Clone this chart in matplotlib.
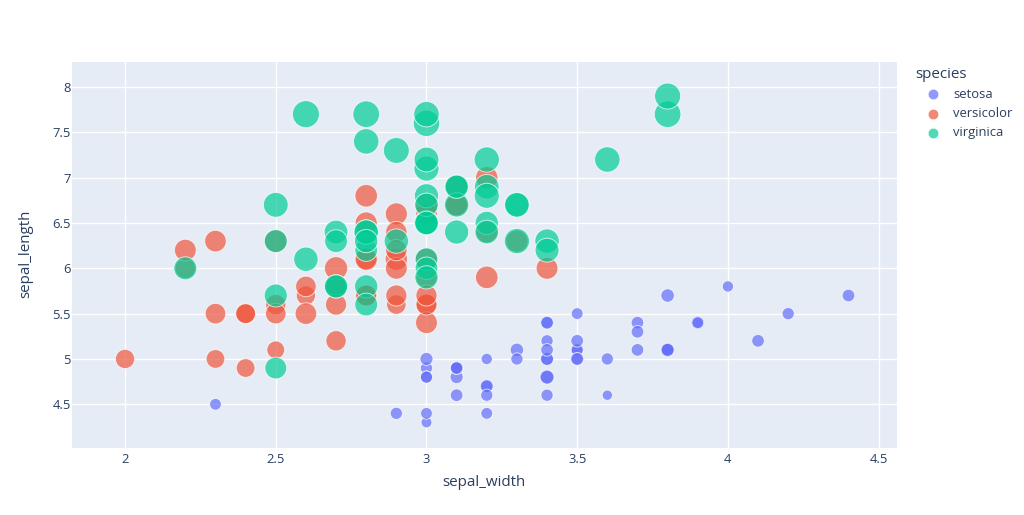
import matplotlib.pyplot as plt
from matplotlib.lines import Line2D
from matplotlib.ticker import FuncFormatter, MultipleLocator

# === DATA (iris, as shown) ===
species = ["setosa", "versicolor", "virginica"]
colors = ["#636efa", "#EF553B", "#00cc96"]

setosa_sepal_length = [5.1, 4.9, 4.7, 4.6, 5.0, 5.4, 4.6, 5.0, 4.4, 4.9, 5.4, 4.8, 4.8, 4.3, 5.8, 5.7, 5.4,
                       5.1, 5.7, 5.1, 5.4, 5.1, 4.6, 5.1, 4.8, 5.0, 5.0, 5.2, 5.2, 4.7, 4.8, 5.4, 5.2, 5.5,
                       4.9, 5.0, 5.5, 4.9, 4.4, 5.1, 5.0, 4.5, 4.4, 5.0, 5.1, 4.8, 5.1, 4.6, 5.3, 5.0]
setosa_sepal_width = [3.5, 3.0, 3.2, 3.1, 3.6, 3.9, 3.4, 3.4, 2.9, 3.1, 3.7, 3.4, 3.0, 3.0, 4.0, 4.4, 3.9,
                      3.5, 3.8, 3.8, 3.4, 3.7, 3.6, 3.3, 3.4, 3.0, 3.4, 3.5, 3.4, 3.2, 3.1, 3.4, 4.1, 4.2,
                      3.1, 3.2, 3.5, 3.1, 3.0, 3.4, 3.5, 2.3, 3.2, 3.5, 3.8, 3.0, 3.8, 3.2, 3.7, 3.3]
setosa_petal_length = [1.4, 1.4, 1.3, 1.5, 1.4, 1.7, 1.4, 1.5, 1.4, 1.5, 1.5, 1.6, 1.4, 1.1, 1.2, 1.5, 1.3,
                       1.4, 1.7, 1.5, 1.7, 1.5, 1.0, 1.7, 1.9, 1.6, 1.6, 1.5, 1.4, 1.6, 1.6, 1.5, 1.5, 1.4,
                       1.5, 1.2, 1.3, 1.5, 1.3, 1.5, 1.3, 1.3, 1.3, 1.6, 1.9, 1.4, 1.6, 1.4, 1.5, 1.4]

versicolor_sepal_length = [7.0, 6.4, 6.9, 5.5, 6.5, 5.7, 6.3, 4.9, 6.6, 5.2, 5.0, 5.9, 6.0, 6.1, 5.6, 6.7,
                           5.6, 5.8, 6.2, 5.6, 5.9, 6.1, 6.3, 6.1, 6.4, 6.6, 6.8, 6.7, 6.0, 5.7, 5.5, 5.5,
                           5.8, 6.0, 5.4, 6.0, 6.7, 6.3, 5.6, 5.5, 5.5, 6.1, 5.8, 5.0, 5.6, 5.7, 5.7, 6.2,
                           5.1, 5.7]
versicolor_sepal_width = [3.2, 3.2, 3.1, 2.3, 2.8, 2.8, 3.3, 2.4, 2.9, 2.7, 2.0, 3.0, 2.2, 2.9, 2.9, 3.1,
                          3.0, 2.7, 2.2, 2.5, 3.2, 2.8, 2.5, 2.8, 2.9, 3.0, 2.8, 3.0, 2.9, 2.6, 2.4, 2.4,
                          2.7, 2.7, 3.0, 3.4, 3.1, 2.3, 3.0, 2.5, 2.6, 3.0, 2.6, 2.3, 2.7, 3.0, 2.9, 2.9,
                          2.5, 2.8]
versicolor_petal_length = [4.7, 4.5, 4.9, 4.0, 4.6, 4.5, 4.7, 3.3, 4.6, 3.9, 3.5, 4.2, 4.0, 4.7, 3.6, 4.4,
                           4.5, 4.1, 4.5, 3.9, 4.8, 4.0, 4.9, 4.7, 4.3, 4.4, 4.8, 5.0, 4.5, 3.5, 3.8, 3.7,
                           3.9, 5.1, 4.5, 4.5, 4.7, 4.4, 4.1, 4.0, 4.4, 4.6, 4.0, 3.3, 4.2, 4.2, 4.2, 4.3,
                           3.0, 4.1]

virginica_sepal_length = [6.3, 5.8, 7.1, 6.3, 6.5, 7.6, 4.9, 7.3, 6.7, 7.2, 6.5, 6.4, 6.8, 5.7, 5.8, 6.4,
                          6.5, 7.7, 7.7, 6.0, 6.9, 5.6, 7.7, 6.3, 6.7, 7.2, 6.2, 6.1, 6.4, 7.2, 7.4, 7.9,
                          6.4, 6.3, 6.1, 7.7, 6.3, 6.4, 6.0, 6.9, 6.7, 6.9, 5.8, 6.8, 6.7, 6.7, 6.3, 6.5,
                          6.2, 5.9]
virginica_sepal_width = [3.3, 2.7, 3.0, 2.9, 3.0, 3.0, 2.5, 2.9, 2.5, 3.6, 3.2, 2.7, 3.0, 2.5, 2.8, 3.2,
                         3.0, 3.8, 2.6, 2.2, 3.2, 2.8, 2.8, 2.7, 3.3, 3.2, 2.8, 3.0, 2.8, 3.0, 2.8, 3.8,
                         2.8, 2.8, 2.6, 3.0, 3.4, 3.1, 3.0, 3.1, 3.1, 3.1, 2.7, 3.2, 3.3, 3.0, 2.5, 3.0,
                         3.4, 3.0]
virginica_petal_length = [6.0, 5.1, 5.9, 5.6, 5.8, 6.6, 4.5, 6.3, 5.8, 6.1, 5.1, 5.3, 5.5, 5.0, 5.1, 5.3,
                          5.5, 6.7, 6.9, 5.0, 5.7, 4.9, 6.7, 4.9, 5.7, 6.0, 4.8, 4.9, 5.6, 5.8, 6.1, 6.4,
                          5.6, 5.1, 5.6, 6.1, 5.6, 5.5, 4.8, 5.4, 5.6, 5.1, 5.1, 5.9, 5.7, 5.2, 5.0, 5.2,
                          5.4, 5.1]

series = [
    (setosa_sepal_width, setosa_sepal_length, setosa_petal_length),
    (versicolor_sepal_width, versicolor_sepal_length, versicolor_petal_length),
    (virginica_sepal_width, virginica_sepal_length, virginica_petal_length),
]

# === STYLE ===
W, H = 1024, 515
font = "Open Sans"
text_color = "#2a3f5f"
bg = "#E5ECF6"
tick_fs = 9.4
title_fs = 10.9

plt.rcParams["font.family"] = [font, "DejaVu Sans"]

fig = plt.figure(figsize=(W / 100, H / 100), dpi=100)
left, right, top, bottom = 72.3, 896.7, 61.7, 447.7
ax = fig.add_axes([left / W, 1 - bottom / H, (right - left) / W, (bottom - top) / H])
ax.set_facecolor(bg)
for sp in ax.spines.values():
    sp.set_visible(False)

# bubble area proportional to petal_length, largest ~27px across
max_val = 6.9
max_diam_pt = 27 * 0.72

for (x, y, size), color in zip(series, colors):
    s = [max_diam_pt ** 2 * v / max_val for v in size]
    ax.scatter(x, y, s=s, c=color, alpha=0.7, edgecolors="white", linewidths=0.7, zorder=3)

ax.set_xlim(1.825, 4.56)
ax.set_ylim(4.021, 8.279)
ax.xaxis.set_major_locator(MultipleLocator(0.5))
ax.yaxis.set_major_locator(MultipleLocator(0.5))
fmt = FuncFormatter(lambda v, _: f"{v:g}")
ax.xaxis.set_major_formatter(fmt)
ax.yaxis.set_major_formatter(fmt)
ax.grid(True, color="white", linewidth=1.0, zorder=0)
ax.set_axisbelow(True)
ax.tick_params(length=0, labelsize=tick_fs, labelcolor=text_color)
ax.tick_params(axis="x", pad=3.5)
ax.tick_params(axis="y", pad=1.2)

# axis titles placed like plotly does
fig.text(484 / W, 1 - 483 / H, "sepal_width", fontsize=title_fs, color=text_color,
         ha="center", va="center")
fig.text(26 / W, 1 - 254 / H, "sepal_length", fontsize=title_fs, color=text_color,
         ha="center", va="center", rotation=90)

# legend drawn by hand to match the placement
fig.text(915 / W, 1 - 75 / H, "species", fontsize=title_fs, color=text_color, va="center", ha="left")
for i, (name, color) in enumerate(zip(species, colors)):
    yy = 1 - (94.3 + 19.2 * i) / H
    fig.add_artist(Line2D([932.7 / W], [yy], marker="o", markersize=7.5, color=color, alpha=0.7,
                          markeredgecolor="white", markeredgewidth=0.5, transform=fig.transFigure))
    fig.text(953 / W, yy, name, fontsize=tick_fs, color=text_color, va="center", ha="left")

fig.savefig("out.png", dpi=100, facecolor="white")
